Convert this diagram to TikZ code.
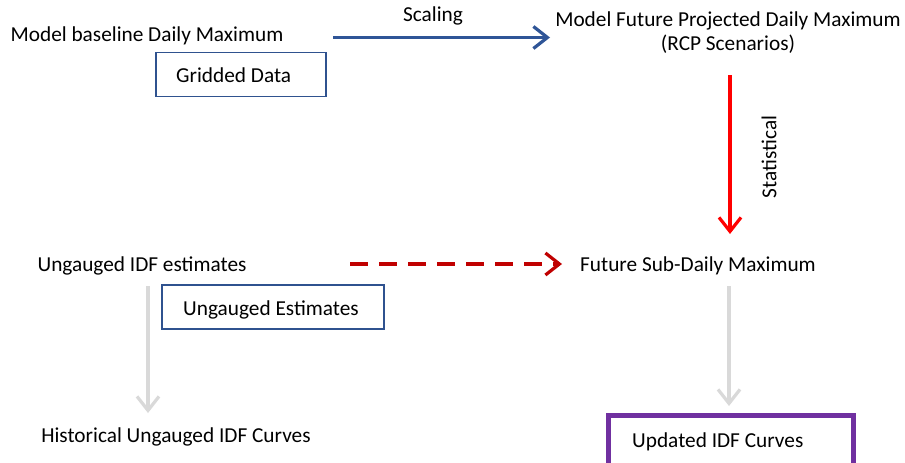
\documentclass[tikz,border=0pt]{standalone}
\usepackage{fontspec}
\setmainfont{Carlito}
\usetikzlibrary{arrows.meta}
\definecolor{dblue}{HTML}{2F5597}
\definecolor{boxblue}{HTML}{2F528F}
\definecolor{dred}{HTML}{C00000}
\definecolor{lgray}{HTML}{D9D9D9}
\definecolor{purp}{HTML}{7030A0}
\tikzset{
  lbl/.style={inner sep=0pt, font=\fontsize{21.3}{24}\selectfont, align=center},
  boxed/.style={draw=boxblue, line width=1.6pt, inner sep=0pt},
  tip/.style={-{Straight Barb[length=14pt,width=22pt,line width=3.2pt]}, line width=3.2pt},
}
\begin{document}
\begin{tikzpicture}[x=1pt,y=-1pt]
\useasboundingbox (0,0) rectangle (905,463);
\fill[white] (0,0) rectangle (905,463);
% boxes
\node[boxed, minimum width=170pt, minimum height=44pt] (gd) at (241,74.5) {};
\node[boxed, minimum width=222pt, minimum height=44pt] (ue) at (273,307) {};
\node[draw=purp, line width=5pt, minimum width=245pt, minimum height=62pt, inner sep=0pt] (pb) at (731,446.5) {};
% text nodes
\node[lbl] (mb) at (147,36) {Model baseline Daily Maximum};
\node[lbl] (sc) at (433,16) {Scaling};
\node[lbl] (mf) at (728,33) {Model Future Projected Daily Maximum\\(RCP Scenarios)};
\node[lbl, rotate=90] (st) at (769,157) {Statistical};
\node[lbl] (ug) at (142,266) {Ungauged IDF estimates};
\node[lbl] (fs) at (698,266) {Future Sub-Daily Maximum};
\node[lbl] (hi) at (176,437) {Historical Ungauged IDF Curves};
\node[lbl, anchor=west] (gdt) at (176,75) {Gridded Data};
\node[lbl, anchor=west] (uet) at (183,310) {Ungauged Estimates};
\node[lbl, anchor=west] (up) at (632,442) {Updated IDF Curves};
% connector ends
\coordinate (a1) at (333,37.5);
\coordinate (a2) at (550,37.5);
\coordinate (b1) at (730,75);
\coordinate (b2) at (730,234);
\coordinate (c1) at (350,264);
\coordinate (c2) at (562,264);
\coordinate (d1) at (148,286);
\coordinate (d2) at (148,413);
\coordinate (e1) at (729,286);
\coordinate (e2) at (729,406);
% connectors
\draw[tip, dblue] (a1) -- (a2);
\draw[tip, red] (b1) -- (b2);
\draw[tip, dred, dash pattern=on 18pt off 11pt] (c1) -- (c2);
\draw[tip, lgray] (d1) -- (d2);
\draw[tip, lgray] (e1) -- (e2);
\end{tikzpicture}
\end{document}
